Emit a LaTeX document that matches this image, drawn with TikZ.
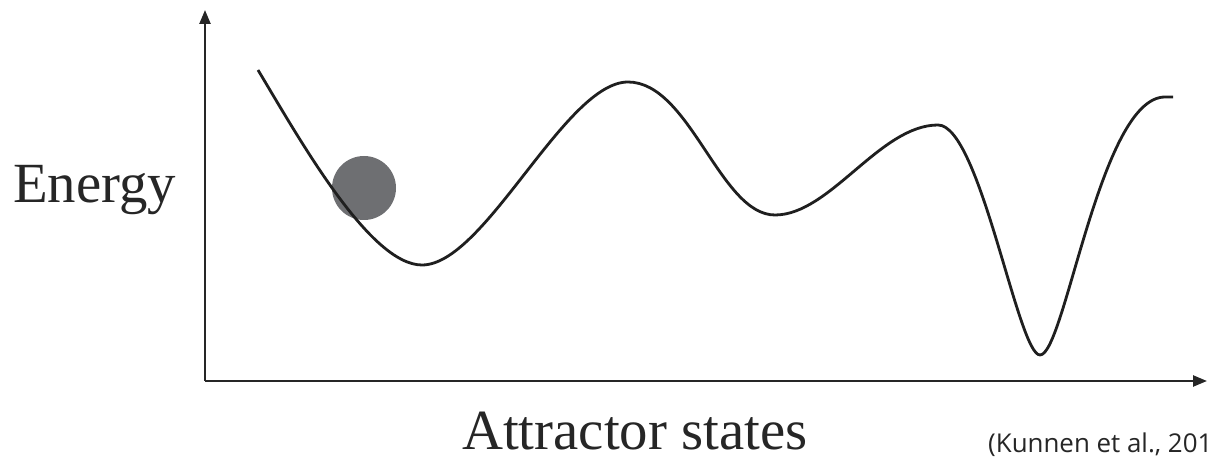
\documentclass[tikz,border=0pt]{standalone}
\usepackage{fontspec}
\setmainfont{Liberation Serif}
\newfontfamily\citefont{Open Sans}
\usetikzlibrary{arrows.meta}
\begin{document}
\begin{tikzpicture}[x=1bp,y=-1bp,
  axis/.style={line width=2.4bp,-{Triangle[length=14bp,width=11bp]},color=black!85},
  landscape/.style={line width=2.8bp,color=black!88,line join=round},
  ball/.style={circle,fill=ballgray,inner sep=0pt,minimum size=64bp},
  bigtext/.style={font=\fontsize{57}{62}\selectfont,inner sep=0pt,text=black!85},
  citetext/.style={font=\citefont\fontsize{26}{30}\selectfont,inner sep=0pt,text=black!85}]
\definecolor{ballgray}{HTML}{6E6F72}
\useasboundingbox (0,0) rectangle (1207,457);
\coordinate (O) at (205,381);
\coordinate (Ytop) at (205,10);
\coordinate (Xend) at (1207,381);
\draw[axis] (O) -- (Ytop);
\draw[axis] (O) -- (Xend);
\coordinate (s) at (258,70);
\coordinate (m1) at (422,265);
\coordinate (p1) at (628,82);
\coordinate (m2) at (775,215);
\coordinate (p2) at (938,125);
\coordinate (m3) at (1040,355);
\coordinate (p3) at (1165,97);
\coordinate (e) at (1173,97);
\node[ball] (b) at (364,188) {};
\draw[landscape] (s) .. controls (300,140) and (370,265) .. (m1)
  .. controls (485,265) and (565,82) .. (p1)
  .. controls (690,82) and (720,215) .. (m2)
  .. controls (830,215) and (880,125) .. (p2)
  .. controls (980,125) and (1018,355) .. (m3)
  .. controls (1065,355) and (1100,97) .. (p3) -- (e);
\node[bigtext,anchor=base west] (energy) at (13,203) {Energy};
\node[bigtext,anchor=base west] (attr) at (462,450) {Attractor states};
\node[citetext,anchor=base west] (cite) at (988,453) {(Kunnen et al., 2018)};
\end{tikzpicture}
\end{document}
